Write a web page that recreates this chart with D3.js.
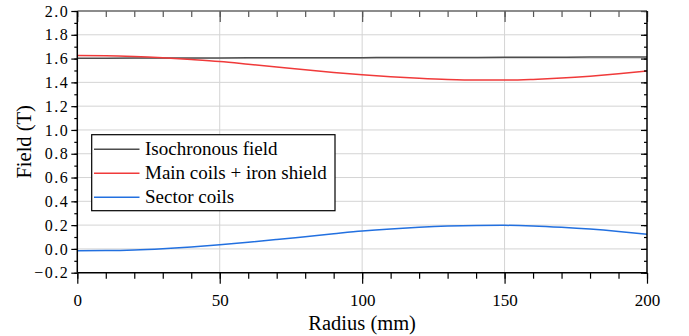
<!DOCTYPE html>
<html><head><meta charset="utf-8">
<script src="https://cdn.jsdelivr.net/npm/d3@7"></script>
<style>body{margin:0;background:#fff}svg{display:block}text{font-family:"Liberation Serif","Times New Roman",serif;fill:#000}</style>
</head><body><svg id="c" width="689" height="336"></svg>
<script>
const radius = [0,10,20,30,40,50,60,70,80,90,100,110,120,130,140,150,160,170,180,190,200];
const isochronous = [1.603,1.6035,1.604,1.6045,1.605,1.6055,1.606,1.6065,1.607,1.6075,1.608,1.6085,1.609,1.6095,1.610,1.6105,1.611,1.6118,1.6125,1.6132,1.614];
const mainCoils = [1.625,1.624,1.618,1.607,1.592,1.575,1.553,1.530,1.506,1.484,1.464,1.447,1.434,1.424,1.419,1.419,1.425,1.436,1.452,1.472,1.495];
const sectorCoils = [-0.015,-0.014,-0.009,0.002,0.017,0.035,0.056,0.079,0.103,0.127,0.150,0.168,0.182,0.192,0.197,0.198,0.193,0.182,0.167,0.147,0.123];
const seriesNames = ["Isochronous field","Main coils + iron shield","Sector coils"];
const seriesColors = ["#4d4d4d","#f03a3a","#2270e0"];
const xTicks = [0,50,100,150,200];
const yTicks = [-0.2,0.0,0.2,0.4,0.6,0.8,1.0,1.2,1.4,1.6,1.8,2.0];

const FONT = "'Liberation Serif','Times New Roman',serif";
const svg = d3.select("#c");
const L=77.3,R=647,T=11,B=272.7;
const x = d3.scaleLinear().domain([0,200]).range([L,R]);
const y = d3.scaleLinear().domain([-0.2,2.0]).range([B,T]);

// grid
const g = svg.append("g");
g.selectAll(".gx").data(xTicks.slice(1,-1)).join("line")
 .attr("x1",d=>x(d)).attr("x2",d=>x(d)).attr("y1",T).attr("y2",B)
 .attr("stroke","#d4d4d4").attr("stroke-width",1);
g.selectAll(".gy").data(yTicks.slice(1,-1)).join("line")
 .attr("y1",d=>y(d)).attr("y2",d=>y(d)).attr("x1",L).attr("x2",R)
 .attr("stroke","#d4d4d4").attr("stroke-width",1);

// data lines
const allSeries=[isochronous,mainCoils,sectorCoils];
const line = d3.line().x((d,i)=>x(radius[i])).y(d=>y(d)).curve(d3.curveMonotoneX);
allSeries.forEach((s,k)=>{
  svg.append("path").datum(s).attr("d",line).attr("fill","none")
   .attr("stroke",seriesColors[k]).attr("stroke-width",1.5);
});

const xMinor = d3.range(0,201,10);
const yMinor = d3.range(-2,21,1).map(v=>v/10);
function clean(sel){ sel.select(".domain").remove(); sel.attr("font-family",FONT); return sel; }
// bottom axis
clean(svg.append("g").attr("transform",`translate(0,${B})`)
 .call(d3.axisBottom(x).tickValues(xMinor).tickSize(6).tickFormat("")));
const bxM = clean(svg.append("g").attr("transform",`translate(0,${B})`)
 .call(d3.axisBottom(x).tickValues(xTicks).tickSize(11).tickPadding(10).tickFormat(d3.format("d"))));
bxM.selectAll("text").attr("font-size",17).style("font-family",FONT);
// top axis (inward)
clean(svg.append("g").attr("transform",`translate(0,${T})`)
 .call(d3.axisBottom(x).tickValues(xMinor).tickSize(6).tickFormat(""))).selectAll("line").attr("stroke","#555");
clean(svg.append("g").attr("transform",`translate(0,${T})`)
 .call(d3.axisBottom(x).tickValues(xTicks).tickSize(11).tickFormat(""))).selectAll("line").attr("stroke","#555");
// left axis
clean(svg.append("g").attr("transform",`translate(${L},0)`)
 .call(d3.axisLeft(y).tickValues(yMinor).tickSize(3).tickFormat("")));
const lyM = clean(svg.append("g").attr("transform",`translate(${L},0)`)
 .call(d3.axisLeft(y).tickValues(yTicks).tickSize(6).tickPadding(2).tickFormat(d3.format(".1f"))));
lyM.selectAll("text").attr("font-size",16).style("font-family",FONT).style("letter-spacing","1.5px");
// right axis (inward)
clean(svg.append("g").attr("transform",`translate(${R},0)`)
 .call(d3.axisLeft(y).tickValues(yMinor).tickSize(3).tickFormat("")));
clean(svg.append("g").attr("transform",`translate(${R},0)`)
 .call(d3.axisLeft(y).tickValues(yTicks).tickSize(6).tickFormat("")));

svg.selectAll(".tick line").attr("stroke-width",1.2);

// frame
svg.append("line").attr("x1",L).attr("x2",R).attr("y1",T).attr("y2",T).attr("stroke","#666").attr("stroke-width",1.5);
svg.append("line").attr("x1",R).attr("x2",R).attr("y1",T).attr("y2",B).attr("stroke","#000").attr("stroke-width",1.5);
svg.append("line").attr("x1",L).attr("x2",R).attr("y1",B).attr("y2",B).attr("stroke","#000").attr("stroke-width",1.5);
svg.append("line").attr("x1",L).attr("x2",L).attr("y1",T).attr("y2",B).attr("stroke","#000").attr("stroke-width",1.5);

// titles
svg.append("text").attr("x",(L+R)/2).attr("y",330).attr("text-anchor","middle").style("font-family",FONT).style("font-size","20.5px").text("Radius (mm)");
svg.append("text").attr("transform",`translate(31,${(T+B)/2}) rotate(-90)`).attr("text-anchor","middle").style("font-family",FONT).style("font-size","20.5px").text("Field (T)");

// legend
const lg = svg.append("g");
lg.append("rect").attr("x",91.7).attr("y",134.7).attr("width",243.3).attr("height",76).attr("fill","#fff").attr("stroke","#000").attr("stroke-width",1.2);
seriesNames.forEach((n,k)=>{
  const yy = 149.3 + k*24;
  lg.append("line").attr("x1",94).attr("x2",139.5).attr("y1",yy).attr("y2",yy).attr("stroke",seriesColors[k]).attr("stroke-width",1.5);
  lg.append("text").attr("x",145).attr("y",yy+6).style("font-family",FONT).style("font-size","19px").text(n);
});
</script></body></html>
